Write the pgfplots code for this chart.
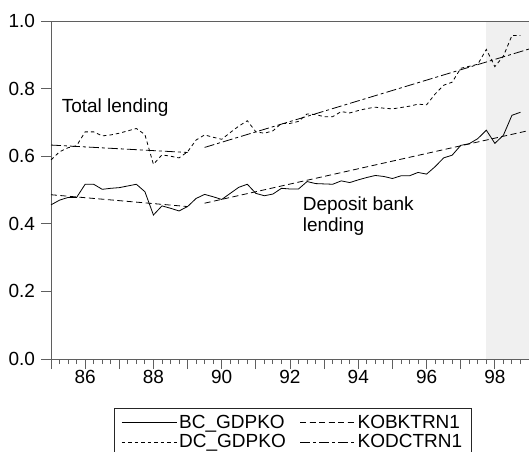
\documentclass[border=0pt]{standalone}
\usepackage{fontspec}
\setmainfont{Liberation Sans}
\usepackage{pgfplots}
\pgfplotsset{compat=1.18}
\definecolor{shade}{RGB}{240,240,240}
\definecolor{axisgray}{RGB}{95,95,95}
\newcommand{\chartfont}{\fontsize{19bp}{20bp}\selectfont}
\begin{document}
\begin{tikzpicture}
\useasboundingbox (-51bp,-93bp) rectangle (478bp,359bp);
\begin{axis}[
  at={(0,0)}, anchor=south west,
  scale only axis, width=478bp, height=338bp,
  xmin=85, xmax=99, ymin=0, ymax=1,
  axis x line*=bottom, axis y line*=left,
  axis line style={axisgray, line width=0.9bp},
  tick align=outside,
  xtick={85,...,99}, xticklabels={,86,,88,,90,,92,,94,,96,,98,},
  minor x tick num=3,
  ytick={0,0.2,0.4,0.6,0.8,1.0},
  yticklabel style={xshift=-2.5bp, /pgf/number format/.cd, fixed, fixed zerofill, precision=1},
  major tick length=10bp, minor tick length=5bp,
  tick style={axisgray, line width=0.9bp},
  ticklabel style={font=\chartfont},
  xticklabel style={yshift=2bp},
  /pgf/number format/assume math mode=true,
  unbounded coords=jump,
  clip=false,
  legend columns=2,
  legend cell align=left,
  legend style={at={(0.1318,-0.145)}, anchor=north west, draw=black!85, line width=0.8bp,
    font=\chartfont, inner xsep=7bp, inner ysep=5bp, row sep=0.5bp,
    /tikz/every even column/.append style={column sep=12bp}},
  legend image code/.code={\draw[#1] (0bp,0bp) -- (48bp,0bp); \path (0bp,0bp) -- (55bp,0bp);},
]
\addplot[draw=none, fill=shade, forget plot] coordinates {(97.75,0) (99,0) (99,1) (97.75,1)} -- cycle;
\draw[axisgray, line width=0.9bp] (rel axis cs:0,1) -- (rel axis cs:1,1);

% BC_GDPKO
\addplot[black, line width=0.8bp] coordinates {
(85.00,0.456) (85.25,0.470) (85.50,0.478) (85.75,0.478)
(86.00,0.517) (86.25,0.517) (86.50,0.502) (86.75,0.505)
(87.00,0.507) (87.25,0.512) (87.50,0.517) (87.75,0.495)
(88.00,0.426) (88.25,0.453) (88.50,0.446) (88.75,0.438)
(89.00,0.451) (89.25,0.475) (89.50,0.487) (89.75,0.480)
(90.00,0.472) (90.25,0.490) (90.50,0.508) (90.75,0.517)
(91.00,0.490) (91.25,0.483) (91.50,0.488) (91.75,0.505)
(92.00,0.503) (92.25,0.503) (92.50,0.525) (92.75,0.519)
(93.00,0.518) (93.25,0.517) (93.50,0.527) (93.75,0.522)
(94.00,0.530) (94.25,0.537) (94.50,0.543) (94.75,0.540)
(95.00,0.534) (95.25,0.542) (95.50,0.542) (95.75,0.552)
(96.00,0.547) (96.25,0.569) (96.50,0.595) (96.75,0.603)
(97.00,0.632) (97.25,0.637) (97.50,0.652) (97.75,0.677)
(98.00,0.638) (98.25,0.662) (98.50,0.721) (98.75,0.730)
};
\addlegendentry{BC\_GDPKO}

% KOBKTRN1
\addplot[black, line width=0.8bp, dash pattern=on 6bp off 3.5bp] coordinates {
(85,0.486) (89,0.451) (89.25,nan) (89.5,0.461) (99,0.676)
};
\addlegendentry{KOBKTRN1}

% DC_GDPKO
\addplot[black, line width=0.8bp, dash pattern=on 3.5bp off 3bp] coordinates {
(85.00,0.589) (85.25,0.613) (85.50,0.625) (85.75,0.631)
(86.00,0.672) (86.25,0.672) (86.50,0.660) (86.75,0.663)
(87.00,0.668) (87.25,0.675) (87.50,0.682) (87.75,0.664)
(88.00,0.576) (88.25,0.604) (88.50,0.600) (88.75,0.595)
(89.00,0.613) (89.25,0.648) (89.50,0.663) (89.75,0.656)
(90.00,0.650) (90.25,0.670) (90.50,0.689) (90.75,0.705)
(91.00,0.672) (91.25,0.668) (91.50,0.675) (91.75,0.697)
(92.00,0.697) (92.25,0.703) (92.50,0.725) (92.75,0.723)
(93.00,0.717) (93.25,0.717) (93.50,0.732) (93.75,0.728)
(94.00,0.735) (94.25,0.741) (94.50,0.745) (94.75,0.742)
(95.00,0.740) (95.25,0.744) (95.50,0.748) (95.75,0.754)
(96.00,0.752) (96.25,0.784) (96.50,0.810) (96.75,0.819)
(97.00,0.860) (97.25,0.866) (97.50,0.872) (97.75,0.916)
(98.00,0.865) (98.25,0.896) (98.50,0.957) (98.75,0.957)
};
\addlegendentry{DC\_GDPKO}

% KODCTRN1
\addplot[black, line width=0.8bp, dash pattern=on 10bp off 3bp on 3bp off 3bp] coordinates {
(85,0.633) (89,0.611) (89.25,nan) (89.5,0.626) (99,0.917)
};
\addlegendentry{KODCTRN1}

\node[anchor=base west, inner sep=0pt, font=\chartfont] at (axis cs:85.31,0.728) {Total lending};
\node[anchor=base west, inner sep=0pt, font=\chartfont] at (axis cs:92.37,0.438) {Deposit bank};
\node[anchor=base west, inner sep=0pt, font=\chartfont] at (axis cs:92.37,0.376) {lending};
\end{axis}
\end{tikzpicture}
\end{document}
